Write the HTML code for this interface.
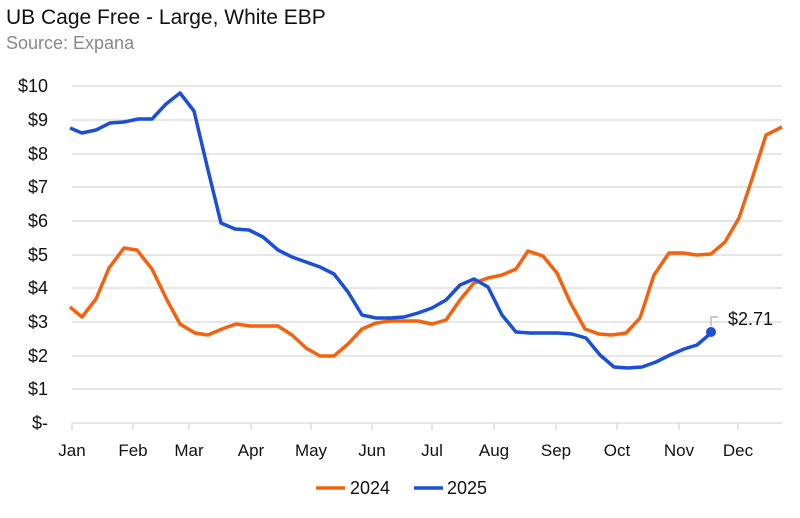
<!DOCTYPE html>
<html><head><meta charset="utf-8"><style>
body{margin:0;background:#fff;font-family:"Liberation Sans",sans-serif}
</style></head><body>
<svg width="800" height="513" xmlns="http://www.w3.org/2000/svg" font-family="Liberation Sans, sans-serif">
<text x="6" y="24" font-size="21" fill="#111">UB Cage Free - Large, White EBP</text>
<text x="6" y="49" font-size="18" fill="#888">Source: Expana</text>
<g stroke="#ddd" stroke-width="1.5">
<line x1="72" x2="782" y1="86" y2="86"/><line x1="72" x2="782" y1="120" y2="120"/><line x1="72" x2="782" y1="154" y2="154"/><line x1="72" x2="782" y1="187" y2="187"/><line x1="72" x2="782" y1="221" y2="221"/><line x1="72" x2="782" y1="255" y2="255"/><line x1="72" x2="782" y1="288" y2="288"/><line x1="72" x2="782" y1="322" y2="322"/><line x1="72" x2="782" y1="356" y2="356"/><line x1="72" x2="782" y1="389" y2="389"/><line x1="72" x2="782" y1="423" y2="423"/>
<line x1="72" x2="72" y1="423" y2="430"/><line x1="133" x2="133" y1="423" y2="430"/><line x1="189" x2="189" y1="423" y2="430"/><line x1="251" x2="251" y1="423" y2="430"/><line x1="311" x2="311" y1="423" y2="430"/><line x1="372" x2="372" y1="423" y2="430"/><line x1="432" x2="432" y1="423" y2="430"/><line x1="494" x2="494" y1="423" y2="430"/><line x1="556" x2="556" y1="423" y2="430"/><line x1="617" x2="617" y1="423" y2="430"/><line x1="679" x2="679" y1="423" y2="430"/><line x1="738" x2="738" y1="423" y2="430"/>
</g>
<g font-size="18" fill="#111" text-anchor="end">
<text x="48" y="92">$10</text><text x="48" y="126">$9</text><text x="48" y="160">$8</text><text x="48" y="193">$7</text><text x="48" y="227">$6</text><text x="48" y="261">$5</text><text x="48" y="294">$4</text><text x="48" y="328">$3</text><text x="48" y="362">$2</text><text x="48" y="395">$1</text><text x="48" y="429">$-</text>
</g>
<g font-size="17" fill="#111" text-anchor="middle">
<text x="72" y="456">Jan</text><text x="133" y="456">Feb</text><text x="189" y="456">Mar</text><text x="251" y="456">Apr</text><text x="311" y="456">May</text><text x="372" y="456">Jun</text><text x="432" y="456">Jul</text><text x="494" y="456">Aug</text><text x="556" y="456">Sep</text><text x="617" y="456">Oct</text><text x="679" y="456">Nov</text><text x="738" y="456">Dec</text>
</g>
<polyline fill="none" stroke="#f2620f" stroke-width="3.5" stroke-linejoin="round" points="70,307 82,317 96,299 109,268 124,248 137,250 152,269 167,300 180,324 195,333 208,335 222,329 236,324 250,326 264,326 278,326 292,335 306,348 320,356 334,356 348,344 362,329 376,323 390,321 404,321 418,321 432,324 446,320 460,300 474,283 488,278 502,275 516,269 528,251 543,256 557,273 570,302 585,329 599,334 612,335 626,333 640,318 654,275 669,253 683,253 697,255 711,254 725,242 739,218 752,179 766,135 782,127"/>
<polyline fill="none" stroke="#1a4fd6" stroke-width="3.5" stroke-linejoin="round" points="70,128 82,133 96,130 110,123 124,122 138,119 152,119 166,104 180,93 194,111 208,170 221,223 235,229 249,230 263,237 278,250 292,257 306,262 320,267 334,274 348,292 362,315 376,318 390,318 404,317 418,313 432,308 446,300 460,285 474,279 488,287 502,315 516,332 530,333 544,333 558,333 572,334 586,338 600,355 614,367 628,368 642,367 656,362 670,355 684,349 697,345 711,333"/>
<circle cx="711" cy="332" r="5" fill="#1a4fd6"/>
<polyline fill="none" stroke="#aaa" stroke-width="1.2" points="711,326 711,317 718,317"/>
<text x="728" y="325" font-size="18" fill="#111">$2.71</text>
<line x1="316" x2="345" y1="488" y2="488" stroke="#f2620f" stroke-width="3.5"/>
<text x="350" y="494" font-size="18" fill="#111">2024</text>
<line x1="414" x2="443" y1="488" y2="488" stroke="#1a4fd6" stroke-width="3.5"/>
<text x="447" y="494" font-size="18" fill="#111">2025</text>
</svg>
</body></html>
